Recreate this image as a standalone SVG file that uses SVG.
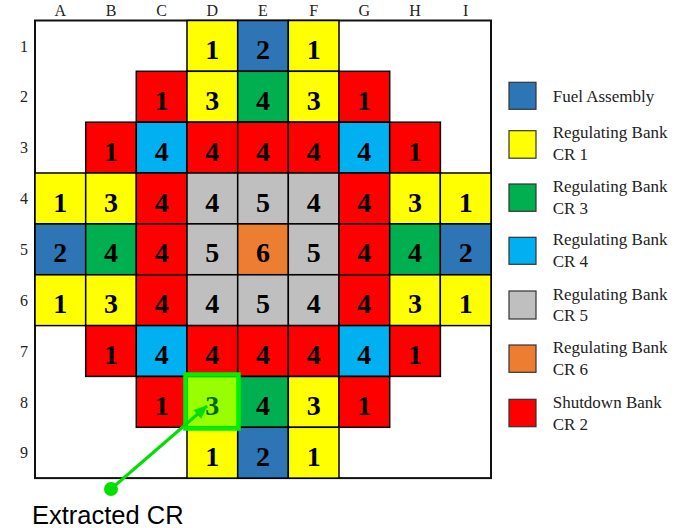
<svg xmlns="http://www.w3.org/2000/svg" width="678" height="528" viewBox="0 0 678 528">
<style>
.c rect{stroke:#000;stroke-width:1.5}
.n{font-family:"Liberation Serif",serif;font-weight:bold;font-size:28px;text-anchor:middle;fill:#000}
.lab{font-family:"Liberation Serif",serif;font-size:16px;text-anchor:middle;fill:#222}
.leg{font-family:"Liberation Serif",serif;font-size:17px;fill:#222}
.lg rect{stroke:#333;stroke-width:1.2}
.Y{fill:#FFFF00}.B{fill:#2E75B6}.G{fill:#00B050}.C{fill:#00B0F0}.S{fill:#BFBFBF}.O{fill:#ED7D31}.R{fill:#FF0000}
</style>
<defs>
<marker id="ah" viewBox="0 0 14 12" refX="13" refY="6" markerWidth="14" markerHeight="12" orient="auto" markerUnits="userSpaceOnUse">
<path d="M0,0 L14,6 L0,12 z" fill="#00E000"/>
</marker>
</defs>
<rect width="678" height="528" fill="#fff"/>
<g id="labels">
<text class="lab" x="60.3" y="16">A</text><text class="lab" x="111" y="16">B</text><text class="lab" x="161.7" y="16">C</text><text class="lab" x="212.3" y="16">D</text><text class="lab" x="263" y="16">E</text><text class="lab" x="313.7" y="16">F</text><text class="lab" x="364.3" y="16">G</text><text class="lab" x="415" y="16">H</text><text class="lab" x="465.7" y="16">I</text>
<text class="lab" x="24" y="51.5">1</text><text class="lab" x="24" y="102.3">2</text><text class="lab" x="24" y="153.2">3</text><text class="lab" x="24" y="204">4</text><text class="lab" x="24" y="254.9">5</text><text class="lab" x="24" y="305.8">6</text><text class="lab" x="24" y="356.6">7</text><text class="lab" x="24" y="407.5">8</text><text class="lab" x="24" y="458.3">9</text>
</g>
<rect id="frame" x="35" y="20.5" width="456" height="457.6" fill="#fff" stroke="#111" stroke-width="2"/>
<g class="c">
<g id="D1"><rect class="Y" x="187" y="20.5" width="50.7" height="50.8"/><text class="n" x="212.3" y="59">1</text></g>
<g id="E1"><rect class="B" x="237.7" y="20.5" width="50.7" height="50.8"/><text class="n" x="263" y="59">2</text></g>
<g id="F1"><rect class="Y" x="288.3" y="20.5" width="50.7" height="50.8"/><text class="n" x="313.7" y="59">1</text></g>

<g id="C2"><rect class="R" x="136.3" y="71.3" width="50.7" height="50.8"/><text class="n" x="161.7" y="109.8">1</text></g>
<g id="D2"><rect class="Y" x="187" y="71.3" width="50.7" height="50.8"/><text class="n" x="212.3" y="109.8">3</text></g>
<g id="E2"><rect class="G" x="237.7" y="71.3" width="50.7" height="50.8"/><text class="n" x="263" y="109.8">4</text></g>
<g id="F2"><rect class="Y" x="288.3" y="71.3" width="50.7" height="50.8"/><text class="n" x="313.7" y="109.8">3</text></g>
<g id="G2"><rect class="R" x="339" y="71.3" width="50.7" height="50.8"/><text class="n" x="364.3" y="109.8">1</text></g>

<g id="B3"><rect class="R" x="85.7" y="122.2" width="50.7" height="50.8"/><text class="n" x="111" y="160.7">1</text></g>
<g id="C3"><rect class="C" x="136.3" y="122.2" width="50.7" height="50.8"/><text class="n" x="161.7" y="160.7">4</text></g>
<g id="D3"><rect class="R" x="187" y="122.2" width="50.7" height="50.8"/><text class="n" x="212.3" y="160.7">4</text></g>
<g id="E3"><rect class="R" x="237.7" y="122.2" width="50.7" height="50.8"/><text class="n" x="263" y="160.7">4</text></g>
<g id="F3"><rect class="R" x="288.3" y="122.2" width="50.7" height="50.8"/><text class="n" x="313.7" y="160.7">4</text></g>
<g id="G3"><rect class="C" x="339" y="122.2" width="50.7" height="50.8"/><text class="n" x="364.3" y="160.7">4</text></g>
<g id="H3"><rect class="R" x="389.7" y="122.2" width="50.7" height="50.8"/><text class="n" x="415" y="160.7">1</text></g>

<g id="A4"><rect class="Y" x="35" y="173" width="50.7" height="50.8"/><text class="n" x="60.3" y="211.5">1</text></g>
<g id="B4"><rect class="Y" x="85.7" y="173" width="50.7" height="50.8"/><text class="n" x="111" y="211.5">3</text></g>
<g id="C4"><rect class="R" x="136.3" y="173" width="50.7" height="50.8"/><text class="n" x="161.7" y="211.5">4</text></g>
<g id="D4"><rect class="S" x="187" y="173" width="50.7" height="50.8"/><text class="n" x="212.3" y="211.5">4</text></g>
<g id="E4"><rect class="S" x="237.7" y="173" width="50.7" height="50.8"/><text class="n" x="263" y="211.5">5</text></g>
<g id="F4"><rect class="S" x="288.3" y="173" width="50.7" height="50.8"/><text class="n" x="313.7" y="211.5">4</text></g>
<g id="G4"><rect class="R" x="339" y="173" width="50.7" height="50.8"/><text class="n" x="364.3" y="211.5">4</text></g>
<g id="H4"><rect class="Y" x="389.7" y="173" width="50.7" height="50.8"/><text class="n" x="415" y="211.5">3</text></g>
<g id="I4"><rect class="Y" x="440.3" y="173" width="50.7" height="50.8"/><text class="n" x="465.7" y="211.5">1</text></g>

<g id="A5"><rect class="B" x="35" y="223.9" width="50.7" height="50.8"/><text class="n" x="60.3" y="262.4">2</text></g>
<g id="B5"><rect class="G" x="85.7" y="223.9" width="50.7" height="50.8"/><text class="n" x="111" y="262.4">4</text></g>
<g id="C5"><rect class="R" x="136.3" y="223.9" width="50.7" height="50.8"/><text class="n" x="161.7" y="262.4">4</text></g>
<g id="D5"><rect class="S" x="187" y="223.9" width="50.7" height="50.8"/><text class="n" x="212.3" y="262.4">5</text></g>
<g id="E5"><rect class="O" x="237.7" y="223.9" width="50.7" height="50.8"/><text class="n" x="263" y="262.4">6</text></g>
<g id="F5"><rect class="S" x="288.3" y="223.9" width="50.7" height="50.8"/><text class="n" x="313.7" y="262.4">5</text></g>
<g id="G5"><rect class="R" x="339" y="223.9" width="50.7" height="50.8"/><text class="n" x="364.3" y="262.4">4</text></g>
<g id="H5"><rect class="G" x="389.7" y="223.9" width="50.7" height="50.8"/><text class="n" x="415" y="262.4">4</text></g>
<g id="I5"><rect class="B" x="440.3" y="223.9" width="50.7" height="50.8"/><text class="n" x="465.7" y="262.4">2</text></g>

<g id="A6"><rect class="Y" x="35" y="274.8" width="50.7" height="50.8"/><text class="n" x="60.3" y="313.3">1</text></g>
<g id="B6"><rect class="Y" x="85.7" y="274.8" width="50.7" height="50.8"/><text class="n" x="111" y="313.3">3</text></g>
<g id="C6"><rect class="R" x="136.3" y="274.8" width="50.7" height="50.8"/><text class="n" x="161.7" y="313.3">4</text></g>
<g id="D6"><rect class="S" x="187" y="274.8" width="50.7" height="50.8"/><text class="n" x="212.3" y="313.3">4</text></g>
<g id="E6"><rect class="S" x="237.7" y="274.8" width="50.7" height="50.8"/><text class="n" x="263" y="313.3">5</text></g>
<g id="F6"><rect class="S" x="288.3" y="274.8" width="50.7" height="50.8"/><text class="n" x="313.7" y="313.3">4</text></g>
<g id="G6"><rect class="R" x="339" y="274.8" width="50.7" height="50.8"/><text class="n" x="364.3" y="313.3">4</text></g>
<g id="H6"><rect class="Y" x="389.7" y="274.8" width="50.7" height="50.8"/><text class="n" x="415" y="313.3">3</text></g>
<g id="I6"><rect class="Y" x="440.3" y="274.8" width="50.7" height="50.8"/><text class="n" x="465.7" y="313.3">1</text></g>

<g id="B7"><rect class="R" x="85.7" y="325.6" width="50.7" height="50.8"/><text class="n" x="111" y="364.1">1</text></g>
<g id="C7"><rect class="C" x="136.3" y="325.6" width="50.7" height="50.8"/><text class="n" x="161.7" y="364.1">4</text></g>
<g id="D7"><rect class="R" x="187" y="325.6" width="50.7" height="50.8"/><text class="n" x="212.3" y="364.1">4</text></g>
<g id="E7"><rect class="R" x="237.7" y="325.6" width="50.7" height="50.8"/><text class="n" x="263" y="364.1">4</text></g>
<g id="F7"><rect class="R" x="288.3" y="325.6" width="50.7" height="50.8"/><text class="n" x="313.7" y="364.1">4</text></g>
<g id="G7"><rect class="C" x="339" y="325.6" width="50.7" height="50.8"/><text class="n" x="364.3" y="364.1">4</text></g>
<g id="H7"><rect class="R" x="389.7" y="325.6" width="50.7" height="50.8"/><text class="n" x="415" y="364.1">1</text></g>

<g id="C8"><rect class="R" x="136.3" y="376.5" width="50.7" height="50.8"/><text class="n" x="161.7" y="415">1</text></g>
<g id="D8"><rect class="Y" x="187" y="376.5" width="50.7" height="50.8"/><text class="n" x="212.3" y="415">3</text></g>
<g id="E8"><rect class="G" x="237.7" y="376.5" width="50.7" height="50.8"/><text class="n" x="263" y="415">4</text></g>
<g id="F8"><rect class="Y" x="288.3" y="376.5" width="50.7" height="50.8"/><text class="n" x="313.7" y="415">3</text></g>
<g id="G8"><rect class="R" x="339" y="376.5" width="50.7" height="50.8"/><text class="n" x="364.3" y="415">1</text></g>

<g id="D9"><rect class="Y" x="187" y="427.3" width="50.7" height="50.8"/><text class="n" x="212.3" y="465.8">1</text></g>
<g id="E9"><rect class="B" x="237.7" y="427.3" width="50.7" height="50.8"/><text class="n" x="263" y="465.8">2</text></g>
<g id="F9"><rect class="Y" x="288.3" y="427.3" width="50.7" height="50.8"/><text class="n" x="313.7" y="465.8">1</text></g>
</g>
<g id="highlight">
<rect x="185.5" y="374.5" width="53" height="54" fill="#00FF00" fill-opacity="0.4" stroke="#00F000" stroke-width="4.5"/>
</g>
<g id="connectors">
<line x1="111" y1="489" x2="207" y2="406" stroke="#00E000" stroke-width="3" marker-end="url(#ah)"/>
<circle cx="111" cy="489" r="7" fill="#00E000"/>
</g>
<text id="extracted" x="32" y="524" font-family="Liberation Sans, Arial, sans-serif" font-size="25.5" fill="#000">Extracted CR</text>
<g class="lg">
<g id="leg-fuel"><rect class="B" x="509" y="82.3" width="27" height="27"/><text class="leg" x="552.7" y="101.7">Fuel Assembly</text></g>
<g id="leg-cr1"><rect class="Y" x="509" y="130.7" width="27" height="27.5"/><text class="leg" x="552.7" y="138.3">Regulating Bank</text><text class="leg" x="552.7" y="160">CR 1</text></g>
<g id="leg-cr3"><rect class="G" x="509" y="184" width="27" height="27.3"/><text class="leg" x="552.7" y="191.7">Regulating Bank</text><text class="leg" x="552.7" y="213.5">CR 3</text></g>
<g id="leg-cr4"><rect class="C" x="509" y="237.3" width="27" height="27"/><text class="leg" x="552.7" y="245">Regulating Bank</text><text class="leg" x="552.7" y="266.5">CR 4</text></g>
<g id="leg-cr5"><rect class="S" x="509" y="291" width="27" height="28"/><text class="leg" x="552.7" y="299.5">Regulating Bank</text><text class="leg" x="552.7" y="321">CR 5</text></g>
<g id="leg-cr6"><rect class="O" x="509" y="345" width="27" height="27.3"/><text class="leg" x="552.7" y="353.3">Regulating Bank</text><text class="leg" x="552.7" y="375">CR 6</text></g>
<g id="leg-cr2"><rect class="R" x="509" y="399.3" width="27" height="27.4"/><text class="leg" x="552.7" y="408">Shutdown Bank</text><text class="leg" x="552.7" y="430">CR 2</text></g>
</g>
</svg>
